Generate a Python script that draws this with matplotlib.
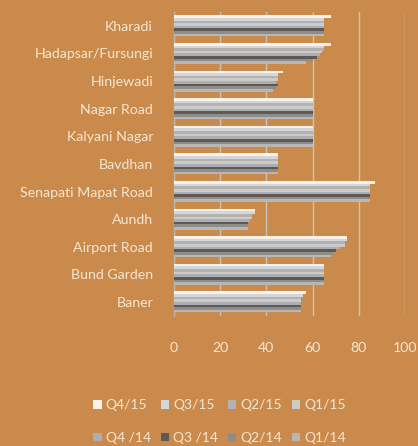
import numpy as np
import matplotlib
matplotlib.use("Agg")
import matplotlib.pyplot as plt
from matplotlib.patches import Patch

plt.rcParams['font.family'] = ['Lato', 'DejaVu Sans']

localities = ["Kharadi", "Hadapsar/Fursungi", "Hinjewadi", "Nagar Road", "Kalyani Nagar",
              "Bavdhan", "Senapati Mapat Road", "Aundh", "Airport Road", "Bund Garden", "Baner"]

quarters = ["Q4/15", "Q3/15", "Q2/15", "Q1/15", "Q4 /14", "Q3 /14", "Q2/14", "Q1/14"]

q4_15 = [68, 68, 47, 60, 60, 45, 87, 35, 75, 65, 57]
q3_15 = [65, 65, 45, 60, 60, 45, 85, 35, 75, 65, 56]
q2_15 = [65, 65, 45, 60, 60, 45, 85, 34, 74, 65, 55]
q1_15 = [65, 64, 45, 60, 60, 45, 85, 34, 74, 65, 55]
q4_14 = [65, 63, 44, 60, 60, 45, 85, 33, 72, 65, 55]
q3_14 = [65, 62, 45, 60, 60, 45, 85, 32, 70, 65, 55]
q2_14 = [65, 60, 44, 60, 60, 45, 85, 32, 69, 65, 55]
q1_14 = [65, 57, 43, 60, 60, 45, 85, 32, 68, 65, 55]

series = [q4_15, q3_15, q2_15, q1_15, q4_14, q3_14, q2_14, q1_14]
colors = ["#FBF3EA", "#D3D6DA", "#B4B2B0", "#CDCBC8", "#ABAEB2", "#5C5957", "#8F8C8A", "#B9B7B4"]

bg = "#C98A4B"
txt = "#F6E6D2"

fig = plt.figure(figsize=(4.18, 4.46), dpi=100, facecolor=bg)
ax = fig.add_axes([0.416, 0.292, 0.553, 0.681], facecolor=bg)

n = len(series)
group_h = 0.76
bh = group_h / n
y = np.arange(len(localities))
for i, (vals, c) in enumerate(zip(series, colors)):
    offs = -group_h / 2 + bh * (i + 0.5)
    ax.barh(y + offs, vals, height=bh, color=c, edgecolor="none", zorder=3)

ax.set_ylim(len(localities) - 0.5, -0.5)
ax.set_xlim(0, 100)
ax.set_xticks([0, 20, 40, 60, 80, 100])
ax.set_yticks(y)
ax.set_yticklabels(localities)
ax.tick_params(axis='y', length=0, pad=15, labelsize=10.2, labelcolor=txt)
ax.tick_params(axis='x', length=0, pad=19, labelsize=10.2, labelcolor=txt)
ax.grid(axis='x', color="#C9C3BD", linewidth=1.0, zorder=1)
for s in ["top", "right", "bottom"]:
    ax.spines[s].set_visible(False)
ax.spines["left"].set_color("#B8B2AC")
ax.spines["left"].set_linewidth(1.0)

order = [0, 4, 1, 5, 2, 6, 3, 7]
handles = [Patch(facecolor=colors[k], edgecolor="none", label=quarters[k]) for k in order]
leg = fig.legend(handles=handles, ncol=4, loc="center", bbox_to_anchor=(0.525, 0.055),
                 frameon=False, fontsize=10, labelcolor=txt, handlelength=0.6,
                 handleheight=0.6, handletextpad=0.3, columnspacing=0.7, labelspacing=1.5)

fig.savefig("out.png", dpi=100, facecolor=bg)
